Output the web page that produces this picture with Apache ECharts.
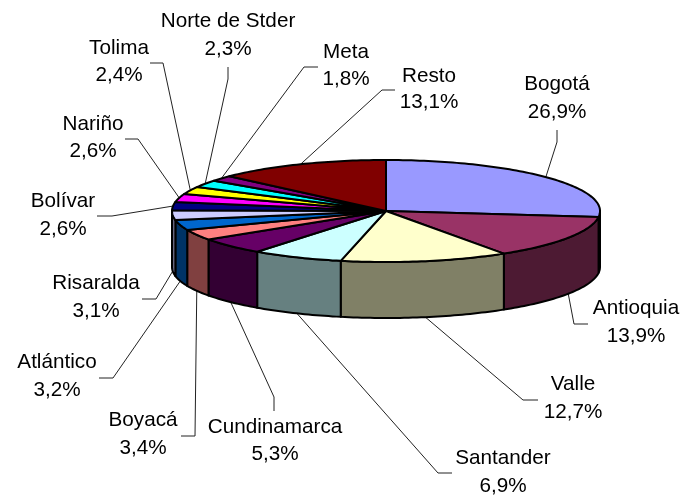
<!DOCTYPE html>
<html>
<head>
<meta charset="utf-8">
<style>html,body{margin:0;padding:0;background:#fff}#c{width:680px;height:495px}</style>
<script src="https://cdn.jsdelivr.net/npm/echarts@6/dist/echarts.min.js"></script>
</head>
<body>
<div id="c"></div>
<script>
var categories = ['Bogotá','Antioquia','Valle','Santander','Cundinamarca','Boyacá','Atlántico','Risaralda','Bolívar','Nariño','Tolima','Norte de Stder','Meta','Resto'];
var values = [26.9,13.9,12.7,6.9,5.3,3.4,3.2,3.1,2.6,2.6,2.4,2.3,1.8,13.1];
var colors = ['#9999FF','#993366','#FFFFCC','#CCFFFF','#660066','#FF8080','#0066CC','#CCCCFF','#000080','#FF00FF','#FFFF00','#00FFFF','#800080','#800000'];

// Layout of the labels: label centre x, first line y, second line y
var labelX = [557,636,573,503,275,143,57,96,63,93,119,228,346,429];
var labelY1 = [84,308,384,458,427,420,362,283,201,124,48,21,52,76];
var labelY2 = [112,336,412,486,454,448,390,311,229,151,75,49,79,102];
// Leader line elbows and ends
var elbowX = [557,574,523,438,274,195,113,156,112,138,163,228,304,382];
var elbowY = [142,324,400,473,397,436,378,299,216,139,63,79,67,90];
var endX = [557,588,538,452,274,181,99,142,97,125,150,228,318,395];
var endY = [130,324,400,473,411,436,378,299,216,139,63,67,67,90];

var cx = 386, cy = 211, rx = 214, ry = 51, depth = 56;
var total = values.reduce(function (a, b) { return a + b; }, 0);
var cum = [0];
values.forEach(function (v, i) { cum.push(cum[i] + v); });
function angle(c) { return c / total * Math.PI * 2; }
function pt(t, dy) { return [cx + rx * Math.sin(t), cy - ry * Math.cos(t) + (dy || 0)]; }
function arc(a, b, dy) {
  var n = Math.max(2, Math.ceil((b - a) / 0.02)), out = [];
  for (var k = 0; k <= n; k++) out.push(pt(a + (b - a) * k / n, dy));
  return out;
}
function halve(hex) {
  var n = parseInt(hex.slice(1), 16);
  var f = function (s) { return Math.round(((n >> s) & 255) / 2); };
  return 'rgb(' + f(16) + ',' + f(8) + ',' + f(0) + ')';
}
var edge = { stroke: '#000', lineWidth: 2, lineJoin: 'round' };

function renderWall(params, api) {
  var i = api.value(0);
  var a = Math.max(angle(cum[i]), Math.PI / 2), b = Math.min(angle(cum[i + 1]), Math.PI * 1.5);
  if (b <= a) return { type: 'group', children: [] };
  return {
    type: 'polygon',
    shape: { points: arc(a, b, 0).concat(arc(a, b, depth).reverse()) },
    style: Object.assign({ fill: halve(colors[i]) }, edge)
  };
}
function renderTop(params, api) {
  var i = api.value(0);
  return {
    type: 'polygon',
    shape: { points: [[cx, cy]].concat(arc(angle(cum[i]), angle(cum[i + 1]), 0)) },
    style: Object.assign({ fill: colors[i] }, edge)
  };
}
function renderLabel(params, api) {
  var i = api.value(0);
  var mid = angle((cum[i] + cum[i + 1]) / 2);
  var front = mid > Math.PI / 2 && mid < Math.PI * 1.5;
  var font = '20.7px "Liberation Sans", Arial, sans-serif';
  var pct = values[i].toFixed(1).replace('.', ',') + '%';
  var txt = function (s, y) {
    return { type: 'text', style: { text: s, x: labelX[i], y: y, fill: '#000', font: font, textAlign: 'center', textVerticalAlign: 'middle' } };
  };
  return {
    type: 'group',
    children: [
      { type: 'polyline', shape: { points: [pt(mid, front ? depth : 0), [elbowX[i], elbowY[i]], [endX[i], endY[i]]] }, style: { stroke: '#222', lineWidth: 1, fill: 'none' } },
      txt(categories[i], labelY1[i]),
      txt(pct, labelY2[i])
    ]
  };
}
var rows = values.map(function (v, i) { return [i, v]; });
var base = { type: 'custom', coordinateSystem: 'none', data: rows, silent: true, animation: false, clip: false };
var chart = echarts.init(document.getElementById('c'), null, { renderer: 'canvas' });
chart.setOption({
  backgroundColor: '#fff',
  animation: false,
  series: [
    Object.assign({}, base, { name: 'labels', z: 1, renderItem: renderLabel }),
    Object.assign({}, base, { name: 'walls', z: 2, renderItem: renderWall }),
    Object.assign({}, base, { name: 'tops', z: 3, renderItem: renderTop })
  ]
});
</script>
</body>
</html>
